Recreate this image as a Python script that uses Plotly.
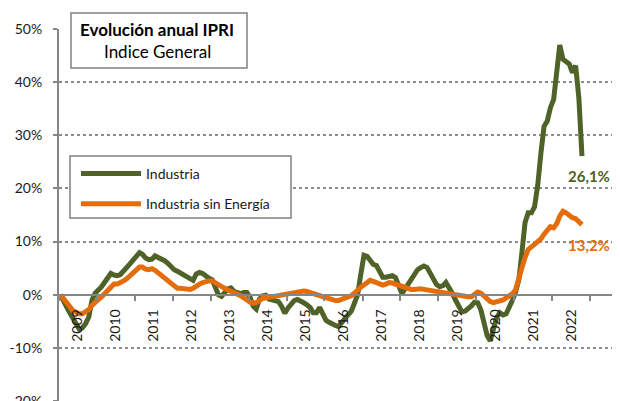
import pandas as pd
import plotly.graph_objects as go

# ---- data (annual % change, monthly, Jan 2009 - Oct 2022) ----
industria = [
    0.0, -1.0, -2.3, -3.4, -4.4, -5.5, -6.5, -6.2, -5.4, -4.2, -1.0, 0.3,
    0.8, 1.5, 2.3, 3.4, 4.0, 3.7, 3.6, 3.8, 4.4, 5.1, 5.8, 6.5,
    7.2, 7.9, 7.6, 6.9, 6.6, 6.7, 7.3, 7.0, 6.8, 6.4, 5.9, 5.3,
    4.7, 4.4, 4.1, 3.8, 3.4, 3.1, 2.7, 3.9, 4.2, 4.0, 3.4, 3.1,
    2.8, 1.5, 0.0, -0.3, 0.5, 1.1, 1.3, 0.6, 0.4, 0.2, 0.4, 0.4,
    -0.5, -2.2, -2.7, -0.8, -0.2, -0.1, -0.8, -1.0, -1.0, -1.3, -2.2, -3.5,
    -2.5, -1.8, -1.1, -0.9, -1.1, -1.5, -1.9, -2.4, -3.4, -3.4, -2.4, -3.7,
    -4.8, -5.2, -5.6, -5.8, -6.0, -5.4, -4.5, -3.8, -3.1, -1.6, 0.0, 3.8,
    7.4, 7.2, 6.3, 5.7, 5.5, 4.2, 3.3, 3.3, 3.5, 3.6, 3.2, 1.9,
    0.2, 1.1, 1.9, 3.0, 3.9, 4.7, 5.1, 5.4, 5.1, 4.1, 2.7, 1.9,
    1.5, 1.7, 2.3, 1.4, 0.3, -1.0, -2.2, -3.2, -3.1, -2.7, -2.1, -1.4,
    -1.5, -2.9, -5.3, -7.7, -8.7, -6.5, -4.3, -3.4, -3.8, -3.6, -2.5, -1.0,
    0.6, 2.9, 7.8, 13.6, 15.4, 15.4, 16.5, 20.6, 26.7, 31.7, 32.7, 35.2,
    36.7, 42.3, 47.0, 44.3, 43.8, 43.4, 41.8, 43.1, 37.0, 26.1,
]
industria_sin_energia = [
    0.0, -0.8, -1.6, -2.5, -3.0, -3.3, -3.6, -3.6, -3.2, -2.8, -2.0, -1.3,
    -0.9, -0.4, 0.2, 0.8, 1.5, 2.0, 2.0, 2.2, 2.6, 3.0, 3.5, 4.0,
    4.5, 5.2, 5.2, 4.8, 4.7, 4.9, 4.6, 4.1, 3.7, 3.2, 2.7, 2.2,
    1.6, 1.2, 1.2, 1.1, 1.1, 1.0, 1.2, 1.7, 2.0, 2.3, 2.5, 2.6,
    2.6, 2.2, 1.8, 1.5, 1.2, 0.9, 0.7, 0.4, 0.1, -0.2, -0.5, -1.0,
    -1.4, -1.6, -1.5, -1.1, -0.7, -0.6, -0.5, -0.4, -0.3, -0.2, -0.1, 0.0,
    0.1, 0.2, 0.3, 0.5, 0.7, 0.7, 0.6, 0.4, 0.2, 0.0, -0.2, -0.3,
    -0.5, -0.7, -0.9, -1.1, -1.1, -0.8, -0.6, -0.4, -0.2, 0.2, 0.8, 1.4,
    1.9, 2.4, 2.7, 2.5, 2.2, 2.0, 1.8, 2.0, 2.3, 2.2, 2.0, 1.7,
    1.4, 1.2, 1.1, 1.0, 1.0, 1.1, 1.1, 1.0, 0.9, 0.8, 0.6, 0.4,
    0.3, 0.2, 0.2, 0.1, 0.0, 0.0, -0.1, -0.2, -0.3, -0.4, -0.4, 0.1,
    0.5, 0.3, -0.2, -0.9, -1.3, -1.5, -1.4, -1.3, -1.0, -0.6, -0.2, 0.2,
    1.0, 2.8, 5.0, 7.0, 8.5, 9.0, 9.4, 9.9, 10.5, 11.4, 12.1, 12.8,
    12.6, 13.4, 14.8, 15.7, 15.4, 14.9, 14.5, 14.3, 13.8, 13.2,
]
series_names = ["Industria", "Industria sin Energía"]
series_colors = ["#4F6228", "#E46C0A"]
year_labels = [str(y) for y in range(2009, 2023)]
y_tick_values = [-20, -10, 0, 10, 20, 30, 40, 50]
y_tick_labels = ["-20%", "-10%", "0%", "10%", "20%", "30%", "40%", "50%"]
title_line1 = "Evolución anual IPRI"
title_line2 = "Indice General"

months = pd.date_range("2009-01-01", periods=len(industria), freq="MS") + pd.Timedelta(days=14)

# the page body has an 8px default margin; compensate so the picture lands at window coords
OFF = 8
ML, MR, MT, MB = 59 - OFF, 0, 29 - OFF, 14
PW, PH = 620 - 59, 372
W, H = ML + PW + MR, MT + PH + MB
FONT = "Lato, 'Open Sans', sans-serif"


def px_x(px):  # window px -> paper
    return (px - OFF - ML) / PW


def px_y(py):
    return 1 - (py - OFF - MT) / PH


fig = go.Figure()
for name, vals, col in zip(series_names, [industria, industria_sin_energia], series_colors):
    fig.add_trace(go.Scatter(
        x=months, y=vals, mode="lines", name=name, legendgroup=name,
        line=dict(color=col, width=5),
    ))

# end labels
for vals, col in zip([industria, industria_sin_energia], series_colors):
    fig.add_annotation(
        x=months[-1], y=vals[-1], xref="x", yref="y",
        text="<b>" + f"{vals[-1]:.1f}%".replace(".", ",") + "</b>",
        showarrow=False, xshift=7, yshift=-20, xanchor="center",
        font=dict(family=FONT, size=15, color=col),
    )

# title box
fig.add_shape(type="rect", xref="paper", yref="paper",
              x0=px_x(71), x1=px_x(247), y0=px_y(68), y1=px_y(13),
              fillcolor="white", line=dict(color="#808080", width=1.5), layer="above")
fig.add_annotation(xref="paper", yref="paper", x=px_x(157), y=px_y(29),
                   xanchor="center", yanchor="middle",
                   text="<b>" + title_line1 + "</b>", showarrow=False,
                   font=dict(family=FONT, size=17, color="#000000"))
fig.add_annotation(xref="paper", yref="paper", x=px_x(157), y=px_y(52),
                   xanchor="center", yanchor="middle",
                   text=title_line2, showarrow=False,
                   font=dict(family=FONT, size=17, color="#000000"))

# legend frame
fig.add_shape(type="rect", xref="paper", yref="paper",
              x0=px_x(70), x1=px_x(291), y0=px_y(218), y1=px_y(156),
              fillcolor="white", line=dict(color="#808080", width=1.5), layer="above")

fig.update_layout(
    width=W, height=H,
    margin=dict(l=ML, r=MR, t=MT, b=MB, autoexpand=False),
    paper_bgcolor="white", plot_bgcolor="white",
    font=dict(family=FONT, size=14, color="#1a1a1a"),
    showlegend=True,
    legend=dict(
        x=px_x(76), y=px_y(158), xanchor="left", yanchor="top",
        bgcolor="rgba(0,0,0,0)", borderwidth=0,
        font=dict(family=FONT, size=14, color="#1a1a1a"),
        tracegroupgap=9, itemwidth=60,
    ),
    xaxis=dict(
        type="date", automargin=False,
        range=["2009-01-01", "2023-10-16"],
        anchor="free", position=20 / 70,
        showline=True, linecolor="#868686", linewidth=2,
        showgrid=False, zeroline=False,
        tickmode="array",
        tickvals=[f"{y}-07-01" for y in year_labels],
        ticktext=year_labels,
        tickangle=-90,
        ticks="outside", ticklen=8, tickcolor="rgba(0,0,0,0)",
        tickfont=dict(family=FONT, size=14, color="#1a1a1a"),
        minor=dict(ticks="outside", ticklen=5, tickwidth=1.5, tickcolor="#868686",
                   tick0="2009-01-01", dtick="M12", showgrid=False),
    ),
    yaxis=dict(
        range=[-20, 50], automargin=False,
        showline=True, linecolor="#868686", linewidth=2,
        showgrid=True, gridcolor="#8c8c8c", gridwidth=1.5, griddash="dot",
        zeroline=False,
        tickmode="array", tickvals=y_tick_values, ticktext=y_tick_labels,
        ticks="outside", ticklen=4, tickwidth=1.5, tickcolor="#868686",
        ticklabelstandoff=8,
        tickfont=dict(family=FONT, size=14, color="#1a1a1a"),
    ),
)

fig.write_html("out.html")
